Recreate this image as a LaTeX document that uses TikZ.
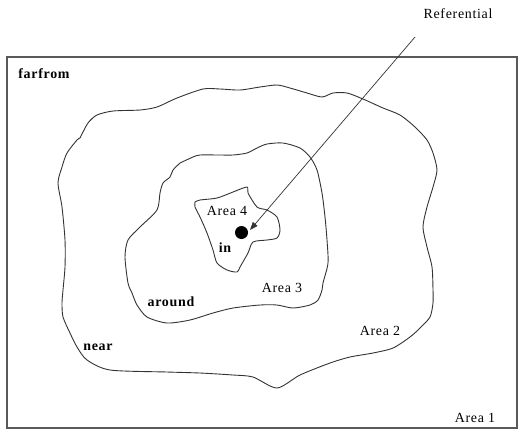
\documentclass[tikz,border=0pt]{standalone}
\usepackage{fontspec}
\setmainfont{Liberation Serif}[LetterSpace=5]
\usetikzlibrary{arrows.meta}
\begin{document}
\begin{tikzpicture}[x=1bp,y=-1bp,
  lbl/.style={inner sep=0pt,font=\fontsize{14}{14}\selectfont},
  blbl/.style={inner sep=0pt,font=\fontsize{14}{14}\selectfont\bfseries},
  blob/.style={line width=0.9bp,draw=black!80,smooth,tension=0.45},
  frame/.style={line width=1.3bp,draw=black!65},
  arr/.style={line width=0.7bp,draw=black!80,-{Triangle[length=8bp,width=6bp]}}]
\useasboundingbox (0,0) rectangle (520,431);
\draw[frame] (7,57) rectangle (517,428);
% Area 2 boundary
\draw[blob] plot coordinates {(80,138) (88,123) (97,115) (113,111) (140,110) (157,107) (177,98) (203,89) (220,89) (240,90) (260,87) (277,85) (290,88) (307,93) (322,97) (333,93) (347,93) (363,99) (383,108) (400,115) (415,127) (427,140) (433,153) (437,170) (433,187) (427,207) (423,227) (427,247) (432,267) (433,290) (433,303) (430,317) (420,328) (410,337) (393,348) (373,353) (350,357) (330,363) (300,375) (277,388) (253,377) (233,375) (200,373) (167,372) (110,370) (87,360) (77,347) (70,333) (63,317) (62,303) (63,290) (65,267) (65,240) (62,207) (58,183) (62,167) (67,153) (77,140) (80,138)};
% Area 3 boundary
\draw[blob] plot coordinates {(180,163) (193,157) (200,155) (220,155) (233,155) (247,153) (257,148) (267,144) (283,143) (300,148) (310,157) (317,170) (322,193) (325,217) (327,240) (328,263) (323,283) (322,290) (318,300) (310,305) (293,308) (277,305) (260,305) (233,308) (213,313) (190,320) (167,323) (147,317) (137,305) (132,293) (128,283) (125,257) (128,240) (140,227) (157,210) (160,193) (163,183) (170,177) (173,170) (180,163)};
% Area 4 boundary
\draw[blob] plot coordinates {(195,202) (200,200) (217,198) (233,192) (247,187) (248,193) (257,207) (267,210) (277,217) (280,230) (277,238) (267,240) (253,242) (248,253) (240,267) (237,272) (227,270) (217,263) (213,250) (207,233) (200,217) (195,207) (195,202)};
% labels
\node[lbl] (ref) at (458,14) {Referential};
\node[blbl] (farfrom) at (44,74) {farfrom};
\node[lbl] (a4) at (227,211) {Area 4};
\node[blbl] (in) at (225,248) {in};
\node[lbl] (a3) at (282,288) {Area 3};
\node[blbl] (around) at (171,302) {around};
\node[blbl] (near) at (98,347) {near};
\node[lbl] (a2) at (380,331) {Area 2};
\node[lbl] (a1) at (475,418) {Area 1};
% referential point and arrow
\node[circle,fill=black,inner sep=0pt,minimum size=13bp] (dot) at (241.5,232.5) {};
\coordinate (refstart) at (415,37);
\coordinate (tip) at (250,230);
\draw[arr] (refstart) -- (tip);
\end{tikzpicture}
\end{document}
